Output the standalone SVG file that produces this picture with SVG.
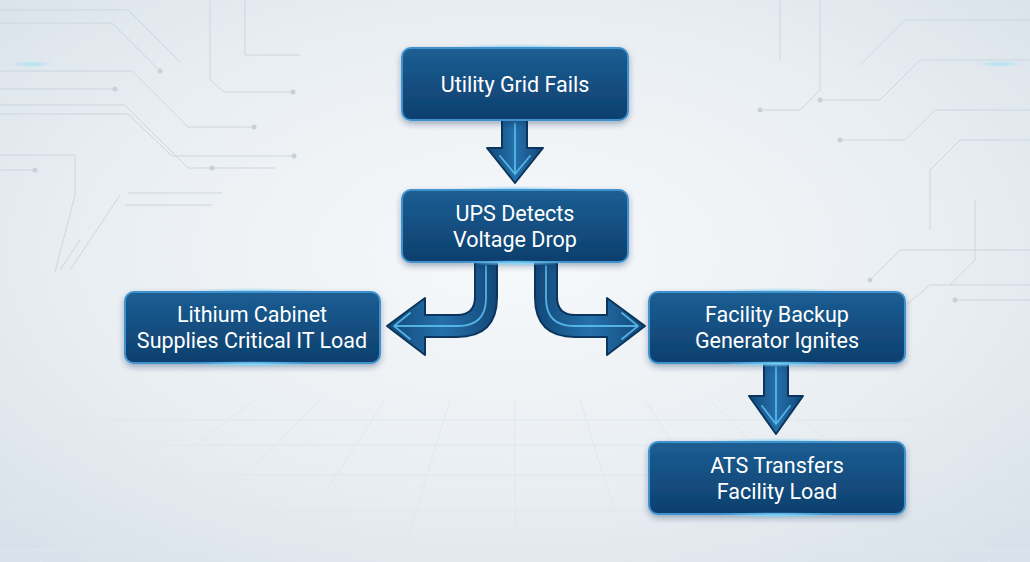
<svg xmlns="http://www.w3.org/2000/svg" width="1030" height="562" viewBox="0 0 1030 562">
<defs>
<radialGradient id="bg" cx="0.5" cy="0.45" r="0.7">
<stop offset="0" stop-color="#f7f9fb"/>
<stop offset="0.6" stop-color="#e9eef2"/>
<stop offset="1" stop-color="#d9e2ea"/>
</radialGradient>
<linearGradient id="box" x1="0" y1="0" x2="0" y2="1">
<stop offset="0" stop-color="#1c5e93"/>
<stop offset="1" stop-color="#0d3f6e"/>
</linearGradient>
<linearGradient id="arr" x1="0" y1="0" x2="1" y2="0">
<stop offset="0" stop-color="#124878"/>
<stop offset="0.5" stop-color="#2570ab"/>
<stop offset="1" stop-color="#124878"/>
</linearGradient>
<radialGradient id="glow">
<stop offset="0" stop-color="#7fdcff" stop-opacity="0.9"/>
<stop offset="1" stop-color="#7fdcff" stop-opacity="0"/>
</radialGradient>
<filter id="sh" x="-20%" y="-30%" width="140%" height="170%">
<feDropShadow dx="0" dy="3" stdDeviation="3" flood-color="#0b2f52" flood-opacity="0.35"/>
</filter>
</defs>
<style>
.box{fill:url(#box);stroke:#3f92cf;stroke-width:2;filter:url(#sh)}
.t{font-family:Roboto,"Liberation Sans",sans-serif;font-size:21.5px;fill:#ffffff;text-anchor:middle}
.trace{fill:none;stroke:#cbd6df;stroke-width:1}
.dot{fill:#c6d1db}
.grid{stroke:#e0e7ed;stroke-width:1;fill:none}
.ash{stroke:#0b355c;stroke-width:2;stroke-linejoin:round}
.hl{fill:none;stroke:#62c8f7;stroke-width:1.8;stroke-linecap:round;opacity:0.8}
</style>
<rect width="1030" height="562" fill="url(#bg)"/>
<g id="background">
<g class="grid">
<path d="M0,420 H1030 M0,445 H1030 M0,475 H1030 M0,510 H1030 M0,550 H1030"/>
<path d="M515,400 L515,562 M450,400 L400,562 M580,400 L630,562 M385,400 L280,562 M645,400 L750,562 M320,400 L160,562 M710,400 L870,562 M255,400 L40,562 M775,400 L990,562"/>
</g>
<g class="trace">
<path d="M0,10 H128 L180,62 M0,23 H112 L160,71 M0,71 H132 L188,127 H255 M0,89 H115 M0,105 H125 L188,168 H275 M0,114 H128 L172,156 H294 M0,155 H75 V195 L55,272 M0,170 H35 M120,195 L70,270 M125,205 H212 M128,193 H222 M80,240 L60,270 M210,0 V80 L224,92 H293 M245,0 V55 H300"/>
<path d="M1030,20 H905 L860,65 M1030,60 H920 L880,100 H820 M1030,110 H935 L905,140 H840 M1030,140 H960 L930,170 V230 M1030,250 H900 L870,280 M1030,285 H930 L900,310 M1030,300 H955 M820,0 V90 L800,110 H760 M780,0 V60 M975,200 V260 L950,285"/>
</g>
<g class="dot">
<circle cx="160" cy="71" r="2.5"/><circle cx="115" cy="89" r="2.5"/><circle cx="254" cy="127" r="2.5"/><circle cx="294" cy="156" r="2.5"/><circle cx="35" cy="170" r="2.5"/><circle cx="212" cy="168" r="2.5"/><circle cx="293" cy="92" r="2.5"/>
<circle cx="820" cy="100" r="2.5"/><circle cx="840" cy="140" r="2.5"/><circle cx="760" cy="110" r="2.5"/><circle cx="955" cy="300" r="2.5"/><circle cx="870" cy="280" r="2.5"/>
</g>
<ellipse cx="32" cy="64" rx="24" ry="3" fill="url(#glow)" opacity="0.6"/>
<ellipse cx="1000" cy="64" rx="24" ry="3" fill="url(#glow)" opacity="0.6"/>
</g>
<g id="connectors">
<g id="arrow-grid-ups">
<path class="ash" fill="url(#arr)" d="M502,120 H527 V148 H543 L515,183 L487,148 H502 Z"/>
<path class="hl" d="M515,124 V172 M500,156 L515,174 L530,156"/>
</g>
<g id="arrow-ups-lithium">
<path class="ash" fill="url(#arr)" d="M475,262 H497 V297 Q497,337 457,337 H425 V355 L387,326 L425,298 V315 H457 Q475,315 475,297 Z"/>
<path class="hl" d="M486,266 V298 Q486,326 458,326 H395 M410,313 L394,326 L410,339"/>
</g>
<g id="arrow-ups-facility" transform="translate(1032,0) scale(-1,1)">
<path class="ash" fill="url(#arr)" d="M475,262 H497 V297 Q497,337 457,337 H425 V355 L387,326 L425,298 V315 H457 Q475,315 475,297 Z"/>
<path class="hl" d="M486,266 V298 Q486,326 458,326 H395 M410,313 L394,326 L410,339"/>
</g>
<g id="arrow-facility-ats">
<path class="ash" fill="url(#arr)" d="M764,363 H788 V396 H803 L776,434 L749,396 H764 Z"/>
<path class="hl" d="M776,367 V424 M762,406 L776,424 L790,406"/>
</g>
</g>
<g id="node-utility">
<ellipse cx="515" cy="48" rx="70" ry="4" fill="url(#glow)"/>
<rect class="box" x="402" y="48" width="226" height="72" rx="9"/>
<text class="t" x="515" y="92">Utility Grid Fails</text>
</g>
<g id="node-ups">
<ellipse cx="515" cy="190" rx="70" ry="4" fill="url(#glow)"/>
<rect class="box" x="402" y="190" width="226" height="72" rx="9"/>
<text class="t" x="515" y="221">UPS Detects</text>
<text class="t" x="515" y="247">Voltage Drop</text>
<ellipse cx="515" cy="263" rx="50" ry="3" fill="url(#glow)"/>
</g>
<g id="node-lithium">
<ellipse cx="252" cy="292" rx="70" ry="4" fill="url(#glow)"/>
<rect class="box" x="125" y="292" width="255" height="71" rx="9"/>
<text class="t" x="252" y="322">Lithium Cabinet</text>
<text class="t" x="252" y="348">Supplies Critical IT Load</text>
<ellipse cx="252" cy="364" rx="60" ry="3" fill="url(#glow)"/>
</g>
<g id="node-facility">
<ellipse cx="777" cy="292" rx="70" ry="4" fill="url(#glow)"/>
<rect class="box" x="649" y="292" width="256" height="71" rx="9"/>
<text class="t" x="777" y="322">Facility Backup</text>
<text class="t" x="777" y="348">Generator Ignites</text>
<ellipse cx="777" cy="364" rx="55" ry="3" fill="url(#glow)"/>
</g>
<g id="node-ats">
<ellipse cx="777" cy="442" rx="70" ry="4" fill="url(#glow)"/>
<rect class="box" x="649" y="442" width="256" height="72" rx="9"/>
<text class="t" x="777" y="473">ATS Transfers</text>
<text class="t" x="777" y="499">Facility Load</text>
<ellipse cx="777" cy="515" rx="60" ry="3" fill="url(#glow)"/>
</g>
</svg>
